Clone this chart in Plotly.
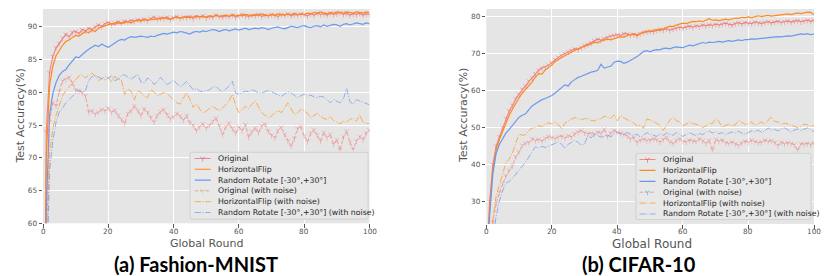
import plotly.graph_objects as go

# ---------------- data ----------------
rounds = list(range(0, 101))

fm_original = [10, 74, 83, 85.5, 86.8, 87.5, 88.3, 88.9, 88.5, 89.2, 89.3, 89.0, 89.6, 89.4, 89.8, 89.6, 90.0, 90.3, 90.1, 90.5,
               90.7, 90.4, 90.6, 90.8, 90.6, 90.9, 90.8, 91.0, 90.9, 91.1, 91.0, 91.2, 91.0, 91.3, 91.5, 91.2, 91.4, 91.3, 91.5, 91.2,
               91.4, 91.6, 91.3, 91.5, 91.4, 91.6, 91.3, 91.6, 91.5, 91.7, 91.4, 91.6, 91.5, 91.8, 91.6, 91.5, 91.7, 91.6, 91.8, 91.5,
               91.7, 91.9, 91.7, 91.6, 91.8, 91.7, 91.9, 91.6, 91.8, 91.7, 91.9, 91.8, 91.6, 91.9, 91.8, 92.0, 91.7, 91.9, 91.8, 92.0,
               91.9, 91.7, 92.0, 91.8, 92.1, 91.9, 92.0, 91.8, 92.1, 91.9, 92.0, 92.2, 91.9, 92.1, 91.8, 92.0, 91.9, 92.1, 91.8, 92.0, 91.9]
fm_hflip = [10, 70, 81, 84, 85.6, 86.5, 87.2, 87.8, 88.0, 88.4, 88.7, 88.6, 89.0, 89.3, 89.1, 89.5, 89.3, 89.8, 90.0, 90.2,
            90.3, 90.5, 90.4, 90.6, 90.5, 90.7, 90.8, 90.6, 90.9, 91.0, 90.9, 91.1, 91.0, 91.2, 91.1, 91.3, 91.2, 91.4, 91.3, 91.1,
            91.4, 91.5, 91.3, 91.5, 91.6, 91.4, 91.5, 91.7, 91.5, 91.6, 91.5, 91.7, 91.6, 91.8, 91.6, 91.7, 91.8, 91.6, 91.9, 91.7,
            91.8, 91.7, 91.9, 91.8, 91.7, 91.9, 91.8, 92.0, 91.8, 91.7, 91.9, 91.8, 92.0, 91.9, 91.8, 92.0, 91.9, 92.1, 91.9, 92.0,
            91.9, 92.1, 92.0, 92.2, 92.1, 92.3, 92.2, 92.0, 92.2, 92.1, 92.3, 92.2, 92.1, 92.3, 92.2, 92.1, 92.3, 92.2, 92.1, 92.3, 92.2]
fm_rotate = [10, 62, 76.5, 79.8, 81.5, 82.6, 83.2, 83.5, 84.2, 84.8, 85.4, 85.3, 85.8, 86.2, 86.6, 86.9, 87.2, 87.0, 87.4, 87.1,
             86.9, 87.2, 87.6, 87.9, 88.1, 88.0, 88.3, 88.5, 88.4, 88.5, 88.6, 88.5, 88.4, 88.6, 88.5, 88.7, 88.9, 89.0, 88.9, 89.1,
             89.2, 89.1, 89.3, 89.2, 89.0, 88.9, 89.2, 89.3, 89.2, 89.4, 89.3, 89.4, 89.6, 89.5, 89.3, 89.5, 89.6, 89.4, 89.6, 89.7,
             89.5, 89.7, 89.8, 89.6, 89.7, 89.8, 89.7, 89.9, 89.8, 89.6, 89.8, 89.9, 90.0, 89.8, 89.7, 89.9, 90.1, 90.0, 89.9, 90.1,
             90.2, 90.0, 89.9, 90.1, 90.2, 90.0, 90.3, 90.1, 90.2, 90.4, 90.3, 90.1, 90.4, 90.5, 90.3, 90.4, 90.6, 90.5, 90.4, 90.6, 90.5]
fm_original_noise = [10, 56, 75.5, 78.4, 78.0, 80.2, 81.8, 82.0, 82.3, 81.5, 80.4, 80.2, 80.0, 79.5, 77.0, 77.2, 76.7, 77.0, 77.4, 77.2,
                     77.6, 77.0, 77.3, 76.5, 75.9, 75.3, 76.8, 77.2, 78.0, 77.2, 76.5, 77.5, 77.0, 76.2, 75.5, 76.5, 77.1, 77.4, 76.6, 76.0,
                     76.3, 76.8, 76.4, 75.8, 76.5, 75.4, 75.0, 74.2, 74.8, 75.2, 74.6, 75.0, 75.6, 76.1, 74.9, 73.6, 74.8, 75.3, 74.5, 73.8,
                     74.7, 74.2, 75.1, 73.2, 74.0, 74.6, 73.9, 74.9, 75.2, 74.1, 73.5, 73.1, 74.2, 74.7, 73.6, 72.6, 71.8, 73.0, 74.5, 74.8,
                     73.4, 72.5, 73.8, 74.3, 73.5, 72.6, 73.9, 73.1, 73.6, 72.1, 72.8, 71.2, 73.2, 74.1, 72.4, 71.3, 72.6, 73.3, 72.8, 73.8, 74.3]
fm_hflip_noise = [10, 52, 70.5, 74.5, 76.5, 78.0, 79.5, 80.3, 80.8, 81.4, 81.9, 82.5, 82.7, 82.2, 82.6, 83.0, 82.4, 81.8, 82.1, 82.4,
                  82.3, 81.6, 82.5, 82.0, 81.9, 79.7, 80.5, 80.2, 78.9, 80.2, 80.0, 79.4, 79.2, 80.4, 80.1, 79.5, 79.7, 80.0, 79.8, 79.4,
                  78.9, 78.4, 78.2, 79.1, 80.0, 78.9, 77.7, 78.3, 77.4, 76.9, 77.1, 77.6, 77.9, 77.5, 77.2, 77.6, 78.2, 78.7, 79.7, 78.0,
                  76.9, 77.4, 77.9, 77.5, 78.2, 78.7, 77.8, 76.9, 76.5, 76.1, 76.4, 76.9, 77.2, 76.9, 77.6, 78.4, 77.5, 76.6, 76.9, 77.4,
                  77.2, 76.8, 76.1, 76.5, 76.8, 76.4, 76.0, 75.9, 76.3, 75.7, 75.5, 75.2, 75.6, 75.4, 75.9, 76.1, 75.6, 76.6, 75.4, 75.3, 75.2]
fm_rotate_noise = [10, 48, 68, 72.5, 75.5, 77.0, 77.6, 78.4, 78.9, 79.4, 79.8, 80.4, 80.0, 80.3, 81.8, 82.4, 82.6, 82.3, 82.1, 81.9,
                   82.2, 82.5, 81.8, 82.0, 82.6, 82.7, 82.3, 82.0, 82.4, 82.7, 81.6, 81.4, 82.2, 81.9, 81.2, 81.6, 82.3, 81.7, 81.2, 81.5,
                   81.9, 81.3, 80.9, 81.2, 81.7, 81.0, 80.4, 80.6, 80.2, 80.1, 80.3, 80.4, 80.8, 80.9, 80.4, 80.1, 80.5, 81.0, 81.7, 79.9,
                   79.7, 80.0, 80.2, 80.1, 80.4, 80.2, 79.9, 79.9, 80.1, 80.3, 80.1, 79.8, 79.6, 79.4, 79.7, 80.1, 79.9, 79.5, 79.2, 79.5,
                   79.7, 79.4, 79.6, 79.3, 79.2, 79.4, 79.3, 78.9, 78.4, 78.9, 78.7, 78.4, 79.0, 80.6, 78.6, 78.2, 78.9, 78.7, 78.5, 78.3, 78.1]

cf_original = [10, 30, 40, 45, 47.5, 50, 52.5, 54.5, 56, 57.8, 59, 60.3, 61.2, 62.5, 63.4, 64.5, 65.5, 66, 66.3, 66.8,
               67.5, 68.3, 68.9, 69.5, 69.9, 70.4, 70.8, 71.2, 71.0, 71.6, 72.1, 72.4, 72.8, 73.4, 73.8, 73.5, 74.0, 74.3, 74.6, 74.8,
               75.0, 74.8, 75.3, 75.2, 74.9, 75.1, 74.7, 75.3, 75.6, 75.9, 76.0, 75.8, 76.2, 76.5, 76.3, 76.6, 76.2, 76.5, 76.8, 77.0,
               76.8, 77.1, 77.3, 77.0, 77.4, 77.2, 77.6, 77.4, 77.7, 77.5, 77.8, 77.6, 77.9, 78.1, 77.8, 77.6, 78.0, 78.2, 77.9, 78.3,
               78.1, 78.0, 78.4, 78.2, 78.0, 78.3, 78.5, 78.2, 78.4, 78.6, 78.3, 78.5, 78.7, 78.4, 78.6, 78.8, 78.5, 78.7, 78.9, 78.6, 78.9]
cf_hflip = [10, 28, 39, 44, 46.8, 49, 51.5, 53.3, 55, 56.7, 58, 59.3, 60.3, 61.1, 62.3, 63.6, 64.5, 64.4, 65.5, 66.2,
            66.8, 67.8, 68.4, 69.0, 69.4, 69.8, 70.4, 70.8, 71.2, 71.5, 71.8, 72.0, 72.5, 73.0, 72.8, 73.3, 73.5, 73.8, 73.6, 73.8,
            74.2, 74.5, 74.3, 74.8, 75.1, 75.3, 75.0, 75.4, 75.7, 75.9, 75.8, 76.2, 76.4, 76.1, 76.6, 77.0, 77.3, 77.2, 77.6, 77.9,
            78.1, 78.0, 78.3, 78.6, 78.5, 78.7, 78.5, 78.8, 79.3, 78.9, 79.0, 78.8, 79.1, 79.2, 79.0, 79.3, 79.5, 79.4, 79.7, 79.6,
            79.8, 79.6, 79.9, 80.1, 79.9, 80.0, 80.2, 80.0, 80.1, 80.3, 80.2, 80.4, 80.6, 80.4, 80.7, 80.9, 80.7, 80.9, 81.1, 81.0, 80.4]
cf_rotate = [10, 26, 37.5, 43, 45.5, 47, 48.5, 49.5, 50.5, 51.8, 52.8, 53.3, 53.7, 54.8, 55.8, 56.4, 57.0, 57.5, 57.8, 58.2,
             58.6, 59.3, 60.0, 60.7, 61.5, 61.2, 62.3, 62.9, 63.5, 63.8, 64.2, 64.6, 64.9, 65.1, 65.4, 67.0, 66.0, 66.3, 66.5, 67.6,
             67.9, 67.8, 67.3, 67.6, 68.2, 68.6, 69.1, 69.8, 70.5, 70.7, 70.4, 70.8, 71.0, 70.9, 71.3, 71.4, 71.2, 71.5, 71.7, 71.6,
             71.5, 71.9, 72.2, 72.0, 72.3, 72.5, 72.9, 72.7, 73.0, 72.9, 73.1, 73.2, 73.0, 73.3, 73.4, 73.2, 73.5, 73.6, 73.4, 73.7,
             73.7, 73.9, 73.8, 73.9, 74.0, 74.2, 74.1, 74.3, 74.4, 74.5, 74.4, 74.6, 74.7, 74.6, 74.8, 74.9, 75.2, 75.1, 75.3, 75.0, 75.2]
cf_original_noise = [10, 15, 24.5, 29.5, 32.5, 35, 37, 38.5, 39.8, 42.2, 43.5, 45.2, 45.8, 46.0, 47.0, 46.5, 46.8, 46.4, 47.1, 47.6,
                     47.3, 47.0, 47.5, 47.7, 47.2, 47.8, 47.5, 48.3, 48.8, 49.2, 48.6, 48.3, 48.5, 48.2, 48.8, 48.4, 49.6, 47.6, 48.5, 49.2,
                     48.8, 48.5, 48.3, 47.8, 46.9, 47.4, 46.0, 46.6, 46.9, 46.5, 46.6, 47.0, 46.7, 46.1, 46.8, 47.4, 46.2, 45.7, 46.5, 47.0,
                     46.3, 46.1, 46.6, 46.4, 46.2, 47.0, 46.5, 45.7, 46.6, 43.9, 46.8, 46.3, 46.6, 46.0, 45.7, 46.1, 45.6, 45.2, 45.9, 46.3,
                     46.0, 46.6, 46.2, 45.9, 46.1, 46.6, 46.2, 46.5, 46.0, 45.2, 46.0, 45.6, 45.9, 45.7, 45.4, 43.9, 45.6, 45.5, 45.7, 45.4, 45.9]
cf_hflip_noise = [10, 14, 25.4, 31.5, 34.5, 37.7, 40.5, 41.5, 43.2, 45.8, 48.3, 47.9, 48.0, 49.2, 49.8, 50.1, 50.5, 50.2, 51.0, 51.2,
                  51.0, 51.4, 50.8, 49.6, 51.2, 51.8, 52.3, 52.7, 52.4, 52.1, 52.4, 52.4, 51.9, 51.8, 52.2, 52.4, 53.0, 52.7, 52.5, 53.4,
                  51.8, 53.2, 52.6, 52.1, 51.7, 51.2, 50.4, 50.6, 49.8, 52.3, 52.0, 51.6, 51.2, 50.5, 49.2, 50.6, 52.0, 52.9, 51.8, 51.5,
                  50.5, 50.9, 51.4, 51.1, 50.8, 50.6, 50.0, 50.4, 51.2, 51.0, 52.5, 51.6, 50.0, 50.6, 50.8, 50.5, 50.7, 52.0, 51.4, 50.8,
                  51.0, 51.5, 50.6, 51.1, 51.5, 50.9, 51.9, 52.9, 51.6, 51.5, 50.8, 51.2, 50.9, 50.6, 50.3, 50.0, 50.2, 50.9, 50.7, 50.3, 50.5]
cf_rotate_noise = [10, 12, 20, 26, 30.2, 33, 35, 35.5, 36.3, 37.5, 38.5, 39.6, 40.7, 42, 43.3, 44.8, 44.5, 44.9, 44.6, 45.0,
                   45.2, 45.8, 46.1, 45.5, 44.4, 45.5, 46.1, 46.5, 46.0, 45.2, 45.6, 47.8, 47.2, 48.2, 47.8, 47.4, 47.6, 48.0, 47.4, 48.3,
                   48.7, 48.2, 48.0, 48.7, 48.2, 47.9, 48.2, 47.4, 48.0, 48.6, 48.2, 47.9, 47.6, 48.3, 47.9, 48.5, 48.3, 47.9, 48.6, 48.0,
                   47.6, 48.1, 48.6, 48.2, 47.8, 48.4, 48.1, 48.7, 49.1, 48.5, 48.9, 48.3, 48.6, 48.1, 48.4, 48.8, 48.5, 49.0, 48.4, 48.2,
                   48.7, 49.1, 48.8, 49.3, 48.7, 49.0, 49.9, 49.3, 49.5, 49.1, 49.6, 49.9, 49.4, 48.8, 49.3, 49.6, 49.2, 49.5, 49.9, 49.4, 48.9]

series_names = ["Original", "HorizontalFlip", "Random Rotate [-30°,+30°]",
                "Original (with noise)", "HorizontalFlip (with noise)",
                "Random Rotate [-30°,+30°] (with noise)"]
fm_values = [fm_original, fm_hflip, fm_rotate, fm_original_noise, fm_hflip_noise, fm_rotate_noise]
cf_values = [cf_original, cf_hflip, cf_rotate, cf_original_noise, cf_hflip_noise, cf_rotate_noise]

x_ticks = [0, 20, 40, 60, 80, 100]
fm_y_ticks = [60, 65, 70, 75, 80, 85, 90]
cf_y_ticks = [30, 40, 50, 60, 70, 80]

# ---------------- styles ----------------
W, H = 830, 276
DASH = "3.7px,1.6px"
DASHDOT = "6.4px,1.6px,1px,1.6px"
styles = [
    dict(color="rgba(238,118,118,0.85)", dash="solid", marker=True, width=1.1),
    dict(color="rgba(255,133,20,0.95)", dash="solid", marker=False, width=1.2),
    dict(color="rgba(100,149,237,0.95)", dash="solid", marker=False, width=1.2),
    dict(color="rgba(240,128,128,0.7)", dash=DASH, marker=True, width=1.0),
    dict(color="rgba(255,160,50,0.85)", dash=DASHDOT, marker=False, width=1.0),
    dict(color="rgba(120,160,240,0.8)", dash=DASHDOT, marker=False, width=1.0),
]
MARKER_SIZE = 4
MARKER_LW = 0.6


def px(x):
    return x / W


def py(y):
    return 1 - y / H


fig = go.Figure()

for axis_id, values in (("", fm_values), ("2", cf_values)):
    for name, vals, st in zip(series_names, values, styles):
        fig.add_trace(go.Scatter(
            x=rounds, y=vals, name=name, showlegend=False,
            mode="lines+markers" if st["marker"] else "lines",
            line=dict(color=st["color"], width=st["width"], dash=st["dash"]),
            marker=dict(symbol="y-down-open", size=MARKER_SIZE,
                        line=dict(width=MARKER_LW, color=st["color"])),
            xaxis="x" + axis_id, yaxis="y" + axis_id,
        ))

# ---------------- custom legends (pixel-coordinate helper axes) ----------------
legend_specs = [
    dict(ax="3", box=(182, 360, 147, 215), rows=[153.3, 164.2, 175.2, 186.2, 197.2, 208.3],
         line_x=(186.7, 202.7), text_x=208.3),
    dict(ax="4", box=(628, 803, 148, 215.5), rows=[154.3, 165.4, 176.5, 187.6, 198.7, 209.8],
         line_x=(631.5, 647.5), text_x=652.7),
]

shapes = []
annotations = []
for spec in legend_specs:
    x0, x1, y0, y1 = spec["box"]
    r = 2
    path = (f"M {x0+r},{y0} L {x1-r},{y0} Q {x1},{y0} {x1},{y0+r} L {x1},{y1-r} Q {x1},{y1} {x1-r},{y1} "
            f"L {x0+r},{y1} Q {x0},{y1} {x0},{y1-r} L {x0},{y0+r} Q {x0},{y0} {x0+r},{y0} Z")
    shapes.append(dict(type="path", path=path, xref="x" + spec["ax"], yref="y" + spec["ax"],
                       fillcolor="#E8E8E8", line=dict(color="#CCCCCC", width=0.8), layer="below"))
    for name, st, ry in zip(series_names, styles, spec["rows"]):
        lx0, lx1 = spec["line_x"]
        fig.add_trace(go.Scatter(
            x=[lx0, lx1], y=[ry, ry], mode="lines", showlegend=False, hoverinfo="skip",
            line=dict(color=st["color"], width=st["width"], dash=st["dash"]),
            xaxis="x" + spec["ax"], yaxis="y" + spec["ax"]))
        if st["marker"]:
            fig.add_trace(go.Scatter(
                x=[(lx0 + lx1) / 2], y=[ry], mode="markers", showlegend=False, hoverinfo="skip",
                marker=dict(symbol="y-down-open", size=MARKER_SIZE,
                            line=dict(width=MARKER_LW, color=st["color"])),
                xaxis="x" + spec["ax"], yaxis="y" + spec["ax"]))
        annotations.append(dict(x=spec["text_x"], y=ry, xref="x" + spec["ax"], yref="y" + spec["ax"],
                                text=name, showarrow=False, xanchor="left", yanchor="middle",
                                font=dict(size=7.8, color="#262626", family="DejaVu Sans")))

# ---------------- tick labels on x (placed via the x axes' own scale) ----------------
tick_font = dict(size=7.3, color="#555555", family="DejaVu Sans")
for xref, ty in (("x", 227.3), ("x2", 227.8)):
    for t in x_ticks:
        annotations.append(dict(x=t, y=py(ty), xref=xref, yref="paper", text=str(t), showarrow=False,
                                xanchor="center", yanchor="middle", font=tick_font))

# ---------------- titles ----------------
label_font = dict(size=11, color="#555555", family="DejaVu Sans")
annotations += [
    dict(x=px(198.3), y=py(239.5), xref="paper", yref="paper", text="Global Round", showarrow=False,
         xanchor="center", yanchor="middle", font=label_font),
    dict(x=px(644), y=py(240.5), xref="paper", yref="paper", text="Global Round", showarrow=False,
         xanchor="center", yanchor="middle", font=dict(size=12, color="#555555", family="DejaVu Sans")),
    dict(x=px(12.5), y=py(110), xref="paper", yref="paper", text="Test Accuracy(%)", showarrow=False,
         textangle=-90, xanchor="center", yanchor="middle", font=label_font),
    dict(x=px(455), y=py(110), xref="paper", yref="paper", text="Test Accuracy(%)", showarrow=False,
         textangle=-90, xanchor="center", yanchor="middle", font=label_font),
    dict(x=px(188), y=py(261), xref="paper", yref="paper", text="<b>(a) Fashion-MNIST</b>", showarrow=False,
         xanchor="center", yanchor="middle", font=dict(size=20, color="#000000", family="Lato")),
    dict(x=px(631), y=py(261), xref="paper", yref="paper", text="<b>(b) CIFAR-10</b>", showarrow=False,
         xanchor="center", yanchor="middle", font=dict(size=20, color="#000000", family="Lato")),
]

common = dict(showgrid=True, gridcolor="#FFFFFF", gridwidth=1, zeroline=False, showline=False,
              ticks="outside", ticklen=3.5, tickwidth=0.8, tickcolor="#555555", tickfont=tick_font,
              fixedrange=True)
hidden = dict(visible=False, showgrid=False, zeroline=False, fixedrange=True)

fig.update_layout(
    width=W, height=H, margin=dict(l=0, r=0, t=0, b=0),
    paper_bgcolor="#FFFFFF", plot_bgcolor="#E5E5E5",
    font=dict(family="DejaVu Sans"),
    showlegend=False,
    xaxis=dict(domain=[px(35), px(361.5)], range=[0, 100], tickvals=x_ticks, showticklabels=False,
               anchor="y", **common),
    yaxis=dict(domain=[py(219.3), py(1)], range=[60, 92.74], tickvals=fm_y_ticks, anchor="x", **common),
    xaxis2=dict(domain=[px(478.3), px(806)], range=[0, 100], tickvals=x_ticks, showticklabels=False,
                anchor="y2", **common),
    yaxis2=dict(domain=[py(220), py(1)], range=[24.0, 81.93], tickvals=cf_y_ticks, anchor="x2", **common),
    xaxis3=dict(domain=[px(181), px(361)], range=[181, 361], anchor="y3", **hidden),
    yaxis3=dict(domain=[py(216), py(146)], range=[216, 146], anchor="x3", **hidden),
    xaxis4=dict(domain=[px(627), px(804)], range=[627, 804], anchor="y4", **hidden),
    yaxis4=dict(domain=[py(216.5), py(147)], range=[216.5, 147], anchor="x4", **hidden),
    shapes=shapes,
    annotations=annotations,
)

fig.write_html("out.html")
